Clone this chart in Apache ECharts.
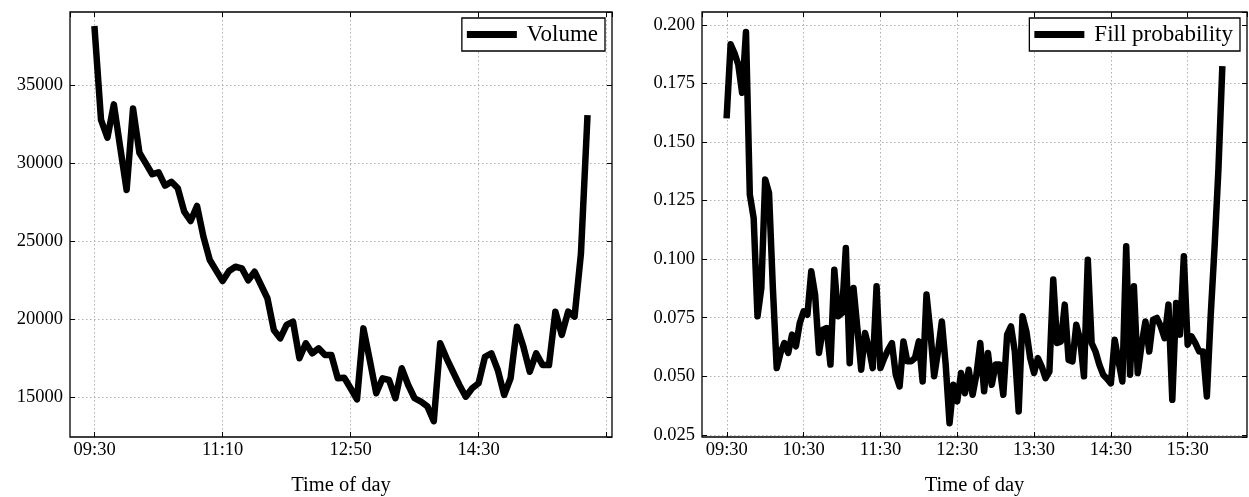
<!DOCTYPE html>
<html><head><meta charset="utf-8">
<script src="https://cdn.jsdelivr.net/npm/echarts@6/dist/echarts.min.js"></script>
<style>html,body{margin:0;padding:0;background:#fff}#c{width:1249px;height:497px}</style>
</head><body><div id="c"></div>
<script>
// 5-minute bins, 09:30 .. 15:55
const volumeValues = [
  38570, 32760, 31620, 33760, 31000, 28270, 33500, 30660, 29980, 29280,
  29400, 28550, 28800, 28380, 26880, 26280, 27250, 25280, 23780, 23100,
  22440, 23080, 23350, 23250, 22480, 23030, 22180, 21330, 19300, 18760,
  19620, 19830, 17480, 18440, 17800, 18120, 17690, 17690, 16200, 16240,
  15560, 14850, 19400, 17370, 15240, 16200, 16090, 14920, 16840, 15770,
  14920, 14700, 14400, 13450, 18440, 17480, 16620, 15770, 15020, 15560,
  15880, 17580, 17800, 16730, 15130, 16200, 19510, 18230, 16620, 17800,
  17050, 17050, 20470, 18980, 20470, 20150, 24210, 32860
];
// 3-minute bins
const fillProbValues = [
  0.1615, 0.1917, 0.188, 0.183, 0.171, 0.197, 0.1276, 0.1176, 0.0756, 0.0877,
  0.134, 0.1283, 0.0877, 0.0535, 0.060, 0.0642, 0.060, 0.0678, 0.0628, 0.0727,
  0.0777, 0.0763, 0.0948, 0.0848, 0.060, 0.0699, 0.0706, 0.055, 0.0955, 0.0756,
  0.077, 0.1048, 0.0556, 0.0877, 0.0706, 0.0528, 0.0685, 0.0621, 0.0535, 0.0884,
  0.0535, 0.0578, 0.0613, 0.0642, 0.0507, 0.0457, 0.0649, 0.0564, 0.0564, 0.0578,
  0.0649, 0.0478, 0.0849, 0.0692, 0.050, 0.0606, 0.0734, 0.055, 0.030, 0.0464,
  0.0393, 0.0514, 0.0428, 0.0528, 0.0421, 0.0507, 0.0642, 0.0436, 0.060, 0.0464,
  0.055, 0.055, 0.0421, 0.0678, 0.0713, 0.0606, 0.035, 0.0756, 0.0692, 0.0578,
  0.0514, 0.0578, 0.0542, 0.0492, 0.052, 0.0913, 0.0642, 0.0649, 0.0806, 0.057,
  0.0564, 0.072, 0.0656, 0.050, 0.0998, 0.0642, 0.0606, 0.055, 0.0507, 0.049,
  0.047, 0.0656, 0.0564, 0.0478, 0.1055, 0.0507, 0.0884, 0.0514, 0.0635, 0.0734,
  0.0606, 0.0742, 0.0749, 0.0713, 0.0663, 0.0806, 0.040, 0.0813, 0.0678, 0.1012,
  0.0635, 0.067, 0.0642, 0.0606, 0.0606, 0.0414, 0.076, 0.105, 0.138, 0.181
];
const volumeTickLabels = ['09:30', '11:10', '12:50', '14:30', ''];
const fillTickLabels = ['09:30', '10:30', '11:30', '12:30', '13:30', '14:30', '15:30', ''];
const xTickStep = 20;
const volumeYStep = 5000;
const fillYStep = 0.025;

const FONT = 'Liberation Serif';
const tickFont = 18.5;

function margins(n) { const m = (n - 1) * 0.05; return [-m, n - 1 + m]; }

const tickStyle = { show: true, inside: true, length: 5, lineStyle: { color: '#000', width: 1 } };
const gridLineStyle = { color: '#b0b0b0', type: [1.5, 2.5], width: 1 };

function xAxes(gridIndex, n, labels) {
  const [mn, mx] = margins(n);
  const common = {
    type: 'value', gridIndex: gridIndex, min: mn, max: mx,
    minInterval: xTickStep, maxInterval: xTickStep,
    axisLine: { show: false, onZero: false },
    axisTick: tickStyle
  };
  return [
    Object.assign({}, common, {
      position: 'bottom',
      name: 'Time of day', nameLocation: 'middle', nameGap: 38,
      nameTextStyle: { fontFamily: FONT, fontSize: 20.5, color: '#000' },
      axisLabel: {
        show: true, margin: 4, fontFamily: FONT, fontSize: tickFont, color: '#000',
        showMinLabel: false, showMaxLabel: false,
        formatter: function (v) {
          const k = Math.round(v / xTickStep);
          if (Math.abs(v - k * xTickStep) > 1e-6) return '';
          return labels[k] !== undefined ? labels[k] : '';
        }
      },
      splitLine: { show: true, showMinLine: false, showMaxLine: false, lineStyle: gridLineStyle }
    }),
    Object.assign({}, common, {
      position: 'top', axisLabel: { show: false }, splitLine: { show: false }
    })
  ];
}

function yAxes(gridIndex, mn, mx, step, fmt) {
  const common = {
    type: 'value', gridIndex: gridIndex, min: mn, max: mx,
    minInterval: step, maxInterval: step,
    axisLine: { show: false, onZero: false },
    axisTick: tickStyle
  };
  return [
    Object.assign({}, common, {
      position: 'left',
      axisLabel: { show: true, margin: 7, fontFamily: FONT, fontSize: tickFont, color: '#000',
        showMinLabel: false, showMaxLabel: false, formatter: fmt },
      splitLine: { show: true, showMinLine: false, showMaxLine: false, lineStyle: gridLineStyle }
    }),
    Object.assign({}, common, {
      position: 'right', axisLabel: { show: false }, splitLine: { show: false }
    })
  ];
}

const chart = echarts.init(document.getElementById('c'), null, { renderer: 'canvas' });

const xs = xAxes(0, volumeValues.length, volumeTickLabels).concat(xAxes(1, fillProbValues.length, fillTickLabels));
const ys = yAxes(0, 12436, 39680, volumeYStep, v => String(Math.round(v)))
  .concat(yAxes(1, 0.0241, 0.2055, fillYStep, v => v.toFixed(3)));

const legendCommon = {
  top: 18, orient: 'horizontal', icon: 'rect', itemWidth: 50, itemHeight: 7,
  backgroundColor: '#fff', borderColor: '#000', borderWidth: 1.3, borderRadius: 0,
  padding: [5, 7, 5, 5],
  textStyle: { fontFamily: FONT, fontSize: 23, color: '#000', padding: [0, 0, 0, 5] }
};

chart.setOption({
  animation: false,
  backgroundColor: '#fff',
  grid: [
    { left: 70, top: 12, width: 542, height: 425, outerBoundsMode: 'none', containLabel: false, show: true, borderColor: '#000', borderWidth: 1.3, backgroundColor: 'transparent' },
    { left: 702, top: 12, width: 545, height: 425, outerBoundsMode: 'none', containLabel: false, show: true, borderColor: '#000', borderWidth: 1.3, backgroundColor: 'transparent' }
  ],
  xAxis: xs,
  yAxis: ys,
  legend: [
    Object.assign({}, legendCommon, { data: ['Volume'], right: 1249 - 605 }),
    Object.assign({}, legendCommon, { data: ['Fill probability'], right: 1249 - 1240 })
  ],
  series: [
    {
      name: 'Volume', type: 'line', xAxisIndex: 0, yAxisIndex: 0,
      data: volumeValues.map((v, i) => [i, v]),
      showSymbol: false, color: '#000',
      lineStyle: { color: '#000', width: 6.5, join: 'round', cap: 'square' }
    },
    {
      name: 'Fill probability', type: 'line', xAxisIndex: 2, yAxisIndex: 2,
      data: fillProbValues.map((v, i) => [i, v]),
      showSymbol: false, color: '#000',
      lineStyle: { color: '#000', width: 6.5, join: 'round', cap: 'square' }
    }
  ]
});
</script>
</body></html>
